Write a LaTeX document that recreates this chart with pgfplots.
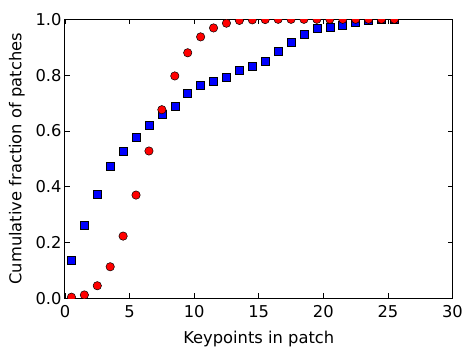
\documentclass[border=0pt]{standalone}
\usepackage{fontspec}
\setmainfont{DejaVu Sans}
\usepackage{pgfplots}
\pgfplotsset{compat=1.18}

% cumulative fraction of patches against keypoints per patch
\pgfplotstableread{
x     y
0.5   0.138
1.5   0.262
2.5   0.373
3.5   0.474
4.5   0.528
5.5   0.578
6.5   0.621
7.5   0.660
8.5   0.689
9.5   0.735
10.5  0.764
11.5  0.778
12.5  0.793
13.5  0.818
14.5  0.832
15.5  0.851
16.5  0.886
17.5  0.918
18.5  0.947
19.5  0.968
20.5  0.973
21.5  0.977
22.5  0.991
23.5  0.997
24.5  0.999
25.5  1.000
}\squares
\pgfplotstableread{
x     y
0.5   0.004
1.5   0.012
2.5   0.045
3.5   0.113
4.5   0.223
5.5   0.370
6.5   0.528
7.5   0.676
8.5   0.797
9.5   0.880
10.5  0.937
11.5  0.969
12.5  0.986
13.5  0.996
14.5  0.998
15.5  0.999
16.5  1.000
17.5  1.000
18.5  1.000
19.5  1.000
20.5  1.000
21.5  1.000
22.5  1.000
23.5  1.000
24.5  1.000
25.5  1.000
}\circles

\begin{document}
\begin{tikzpicture}
\begin{axis}[
    at={(0,0)}, anchor=south west,
    scale only axis, width=387.5pt, height=279pt,
    xmin=0, xmax=30, ymin=0, ymax=1,
    xtick={0,5,10,15,20,25,30},
    ytick={0,0.2,0.4,0.6,0.8,1},
    yticklabel style={/pgf/number format/.cd, fixed, fixed zerofill, precision=1},
    /pgf/number format/assume math mode=true,
    tick align=inside, major tick length=5pt,
    tick style={black, line width=0.8pt},
    axis line style={line width=1pt},
    every tick label/.append style={font=\fontsize{16.3}{19}\selectfont},
    xticklabel style={yshift=-3.5pt},
    label style={font=\fontsize{16.3}{19}\selectfont},
    xlabel={Keypoints in patch},
    ylabel={Cumulative fraction of patches},
    xlabel shift=7pt, ylabel shift=4pt,
    clip marker paths=true,
]
\addplot[only marks, mark=square*, mark size=4pt,
         mark options={fill=blue, draw=black, line width=0.5pt}] table {\squares};
\addplot[only marks, mark=*, mark size=4.2pt,
         mark options={fill=red, draw=black, line width=0.5pt}] table {\circles};
\end{axis}
\pgfresetboundingbox
\path[use as bounding box] (-65pt,-58.5pt) rectangle (406pt,298.3pt);
\end{tikzpicture}
\end{document}
